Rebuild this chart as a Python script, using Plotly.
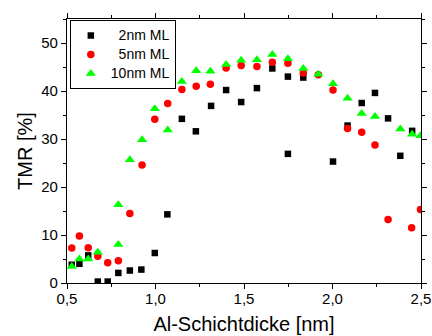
import plotly.graph_objects as go

# Al layer thickness [nm] and TMR [%] for the three bottom-layer thicknesses
thick_2nm = [0.527, 0.570, 0.620, 0.674, 0.730, 0.790, 0.855, 0.920, 0.996, 1.067,
             1.149, 1.228, 1.314, 1.399, 1.484, 1.573, 1.660, 1.748, 1.748, 1.835,
             2.003, 2.085, 2.165, 2.240, 2.314, 2.383, 2.450]
tmr_2nm = [3.8, 4.0, 5.75, 0.3, 0.3, 2.1, 2.6, 2.8, 6.25, 14.3,
           34.2, 31.6, 36.9, 40.2, 37.7, 40.6, 44.7, 43.0, 26.9, 42.8,
           25.3, 32.8, 37.5, 39.6, 34.3, 26.5, 31.7]

thick_5nm = [0.527, 0.570, 0.620, 0.674, 0.730, 0.790, 0.855, 0.924, 0.996, 1.069,
             1.149, 1.230, 1.310, 1.399, 1.484, 1.573, 1.660, 1.748, 1.835, 1.920,
             2.003, 2.085, 2.165, 2.240, 2.314, 2.447, 2.497]
tmr_5nm = [7.3, 9.8, 7.35, 5.55, 4.2, 4.65, 14.5, 24.6, 34.1, 37.4,
           40.3, 41.0, 41.4, 44.8, 45.3, 45.1, 46.0, 45.8, 43.75, 43.4,
           40.2, 32.2, 31.4, 28.75, 13.25, 11.5, 15.3]

thick_10nm = [0.527, 0.570, 0.620, 0.674, 0.790, 0.790, 0.855, 0.924, 0.996, 1.069,
              1.149, 1.230, 1.310, 1.399, 1.484, 1.573, 1.660, 1.748, 1.835, 1.920,
              2.003, 2.085, 2.165, 2.240, 2.383, 2.450, 2.497]
tmr_10nm = [3.45, 5.0, 5.0, 6.4, 8.0, 16.3, 25.7, 29.85, 36.3, 31.9,
            42.0, 44.2, 44.1, 45.5, 46.4, 46.5, 47.6, 46.7, 44.7, 43.5,
            41.5, 38.5, 35.3, 34.7, 32.1, 31.0, 30.7]

x_ticks = [0.5, 1.0, 1.5, 2.0, 2.5]
y_ticks = [0, 10, 20, 30, 40, 50]

NB = "\u00a0"
FONT = "Liberation Sans, Arial, sans-serif"


def legend_label(text):
    # larger label text while the legend keeps a compact row height
    return '<span style="font-size:14px">' + text + "</span>"


fig = go.Figure()
fig.add_trace(go.Scatter(
    x=thick_2nm, y=tmr_2nm, mode="markers", name=legend_label(NB * 2 + "2nm ML"),
    marker=dict(symbol="square", size=6.5, color="black", line=dict(width=0)),
))
fig.add_trace(go.Scatter(
    x=thick_5nm, y=tmr_5nm, mode="markers", name=legend_label(NB * 2 + "5nm ML"),
    marker=dict(symbol="circle", size=7.5, color="#ff0000", line=dict(width=0)),
))
fig.add_trace(go.Scatter(
    x=thick_10nm, y=tmr_10nm, mode="markers", name=legend_label("10nm ML"),
    marker=dict(symbol="triangle-up", size=9, color="#00ff00", line=dict(width=0)),
))

axis_common = dict(
    showline=True, linecolor="black", linewidth=1.3, mirror="allticks",
    ticks="outside", ticklen=5, tickwidth=1, tickcolor="black",
    showgrid=False, zeroline=False, automargin=False,
    tickfont=dict(family=FONT, size=15, color="black"),
)

fig.update_xaxes(
    range=[0.5, 2.5], tickvals=x_ticks, tickformat=".1f",
    ticklabelstandoff=-3,
    minor=dict(dtick=0.25, ticks="outside", ticklen=3, tickcolor="black"),
    title=dict(text="Al-Schichtdicke [nm]", font=dict(family=FONT, size=20, color="black"),
               standoff=10),
    **axis_common,
)
fig.update_yaxes(
    range=[0, 55], tickvals=y_ticks,
    minor=dict(dtick=5, ticks="outside", ticklen=3, tickcolor="black"),
    # trailing spaces lower the rotated title a little along the axis
    title=dict(text="TMR [%]" + NB * 5, font=dict(family=FONT, size=20, color="black"),
               standoff=3),
    **axis_common,
)

fig.update_layout(
    width=432, height=336,
    margin=dict(l=67, r=11, t=19, b=53),
    paper_bgcolor="white", plot_bgcolor="white",
    separators=",.",
    font=dict(family=FONT, color="black"),
    legend=dict(
        x=0.008, y=0.996, xanchor="left", yanchor="top",
        bgcolor="white", bordercolor="black", borderwidth=1,
        font=dict(family=FONT, size=11, color="black"),
        itemwidth=30, tracegroupgap=0,
    ),
    showlegend=True,
)

fig.write_html("out.html")
